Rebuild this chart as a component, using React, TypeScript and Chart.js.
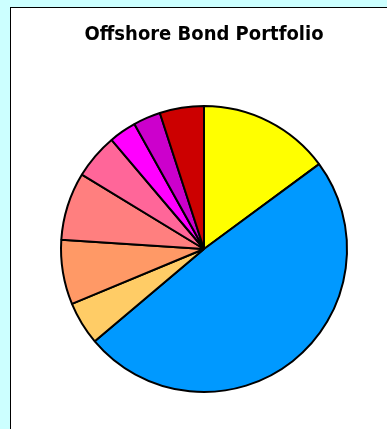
import React, { useEffect, useRef } from "react";
import { Chart, registerables } from "chart.js";

Chart.register(...registerables);

const categories = [
  "Segment A",
  "Segment B",
  "Segment C",
  "Segment D",
  "Segment E",
  "Segment F",
  "Segment G",
  "Segment H",
  "Segment I",
];
const values = [14.9, 49.0, 4.9, 7.3, 7.7, 5.1, 3.1, 3.1, 5.0];
const colors = [
  "#ffff00",
  "#0099ff",
  "#ffcc66",
  "#ff9966",
  "#ff7f7f",
  "#ff6699",
  "#ff00ff",
  "#cc00cc",
  "#cc0000",
];
const title = "Offshore Bond Portfolio";

export default function App() {
  const ref = useRef<HTMLCanvasElement | null>(null);
  useEffect(() => {
    if (!ref.current) return;
    const chart = new Chart(ref.current, {
      type: "pie",
      data: {
        labels: categories,
        datasets: [
          {
            data: values,
            backgroundColor: colors,
            borderColor: "#000000",
            borderWidth: 2,
          },
        ],
      },
      options: {
        animation: false,
        responsive: false,
        maintainAspectRatio: false,
        layout: { padding: { left: 10, right: 0, top: 0, bottom: 36 } },
        plugins: {
          legend: { display: false },
          tooltip: { enabled: false },
          title: {
            display: true,
            text: title,
            color: "#000000",
            font: { family: "'DejaVu Sans Condensed'", size: 20, weight: "bold" },
            padding: { top: 15, bottom: 58 },
          },
        },
      },
    });
    return () => chart.destroy();
  }, []);
  return (
    <div
      style={{
        position: "fixed",
        left: 0,
        top: 0,
        width: 387,
        height: 429,
        background: "#ccffff",
        overflow: "hidden",
      }}
    >
      <div
        style={{
          position: "absolute",
          left: 10,
          top: 7,
          width: 400,
          height: 440,
          background: "#ffffff",
          borderLeft: "1px solid #000",
          borderTop: "1px solid #000",
        }}
      >
        <canvas
          ref={ref}
          width={376}
          height={421}
          style={{ display: "block", width: 376, height: 421 }}
        />
      </div>
    </div>
  );
}
